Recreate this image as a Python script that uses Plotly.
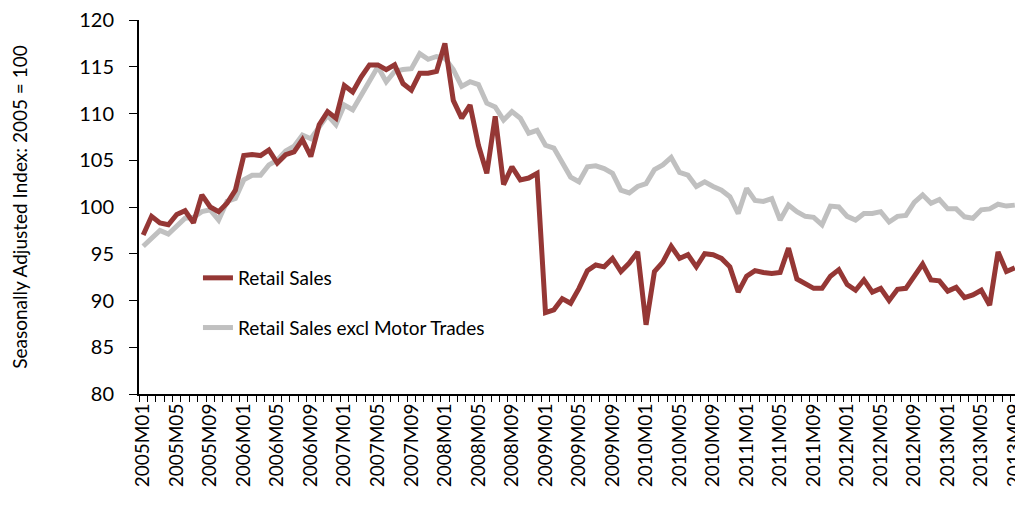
import plotly.graph_objects as go

years = list(range(2005, 2014))
months = [f"{y}M{m:02d}" for y in years for m in range(1, 13)][:105]

retail_sales = [
    97.0, 99.0, 98.3, 98.1, 99.2, 99.6, 98.3, 101.3, 100.0, 99.5, 100.4, 101.8,
    105.5, 105.6, 105.5, 106.1, 104.7, 105.6, 105.9, 107.2, 105.4, 108.8, 110.2, 109.5,
    113.0, 112.3, 113.9, 115.2, 115.2, 114.7, 115.2, 113.2, 112.5, 114.3, 114.3, 114.5,
    117.5, 111.4, 109.5, 110.9, 106.6, 103.6, 109.7, 102.4, 104.3, 102.9, 103.1, 103.6,
    88.7, 89.0, 90.2, 89.7, 91.3, 93.2, 93.8, 93.6, 94.5, 93.1, 94.0, 95.2,
    87.4, 93.1, 94.1, 95.8, 94.5, 94.9, 93.6, 95.0, 94.9, 94.5, 93.6, 90.9,
    92.6, 93.2, 93.0, 92.9, 93.0, 95.6, 92.3, 91.8, 91.3, 91.3, 92.6, 93.3,
    91.7, 91.1, 92.2, 90.9, 91.3, 90.0, 91.2, 91.3, 92.7, 93.9, 92.2, 92.1,
    91.0, 91.4, 90.3, 90.6, 91.1, 89.5, 95.2, 93.1, 93.5,
]

retail_excl_motor = [
    95.8, 96.7, 97.5, 97.1, 98.0, 98.8, 98.9, 99.5, 99.7, 98.6, 100.6, 100.9,
    102.9, 103.4, 103.4, 104.5, 105.0, 106.0, 106.5, 107.7, 107.3, 108.6, 109.8, 108.8,
    110.9, 110.4, 112.0, 113.6, 115.0, 113.4, 114.5, 114.7, 114.8, 116.4, 115.8, 116.1,
    115.9, 114.7, 112.9, 113.4, 113.1, 111.1, 110.7, 109.3, 110.2, 109.5, 107.9, 108.2,
    106.6, 106.3, 104.7, 103.2, 102.7, 104.3, 104.4, 104.1, 103.6, 101.8, 101.5, 102.2,
    102.5, 104.0, 104.5, 105.3, 103.7, 103.4, 102.2, 102.7, 102.2, 101.8, 101.1, 99.3,
    102.0, 100.7, 100.6, 100.9, 98.6, 100.2, 99.5, 99.0, 98.9, 98.1, 100.1, 100.0,
    99.0, 98.6, 99.3, 99.3, 99.5, 98.4, 99.0, 99.1, 100.5, 101.3, 100.4, 100.8,
    99.8, 99.8, 98.95, 98.8, 99.7, 99.8, 100.3, 100.1, 100.2,
]

tick_labels = [m if i % 4 == 0 else "" for i, m in enumerate(months)]

FONT = "Lato"
RED = "#953735"
GRAY = "#C0C0C0"

fig = go.Figure()
# gray first so red is drawn on top
fig.add_trace(go.Scatter(
    x=months, y=retail_excl_motor, mode="lines", name="Retail Sales excl Motor Trades",
    line=dict(color=GRAY, width=5), legendgroup="b", legendrank=2,
))
fig.add_trace(go.Scatter(
    x=months, y=retail_sales, mode="lines", name="Retail Sales",
    line=dict(color=RED, width=5), legendgroup="a", legendrank=1,
))

# page body has an 8px margin: size the figure so the plot lands where the reference has it
fig.update_layout(
    width=1015, height=498,
    margin=dict(l=131, r=4, t=12, b=112),
    paper_bgcolor="white", plot_bgcolor="white",
    font=dict(family=FONT, size=20, color="black"),
    showlegend=True,
    legend=dict(
        x=0.067, y=0.361, xanchor="left", yanchor="top",
        traceorder="grouped", tracegroupgap=22,
        bgcolor="rgba(0,0,0,0)", font=dict(size=19),
    ),
    xaxis=dict(
        type="category", categoryorder="array", categoryarray=months,
        tickmode="array", tickvals=months, ticktext=tick_labels,
        tickson="boundaries", ticks="outside", ticklen=6, tickcolor="black",
        tickangle=-90, showline=True, linecolor="black", linewidth=2,
        showgrid=False, zeroline=False, range=[-0.5, len(months) - 0.5],
        tickfont=dict(size=19), automargin=False, ticklabeloverflow="allow",
    ),
    yaxis=dict(
        range=[80, 120], dtick=5, ticks="outside", ticklen=8, tickcolor="black",
        showline=True, linecolor="black", linewidth=2, showgrid=False, zeroline=False,
        tickfont=dict(size=20), ticklabelstandoff=11, automargin=False,
        ticklabeloverflow="allow",
        title=dict(text="Seasonally Adjusted Index: 2005 = 100", font=dict(size=19), standoff=54),
    ),
)

fig.write_html("out.html")
